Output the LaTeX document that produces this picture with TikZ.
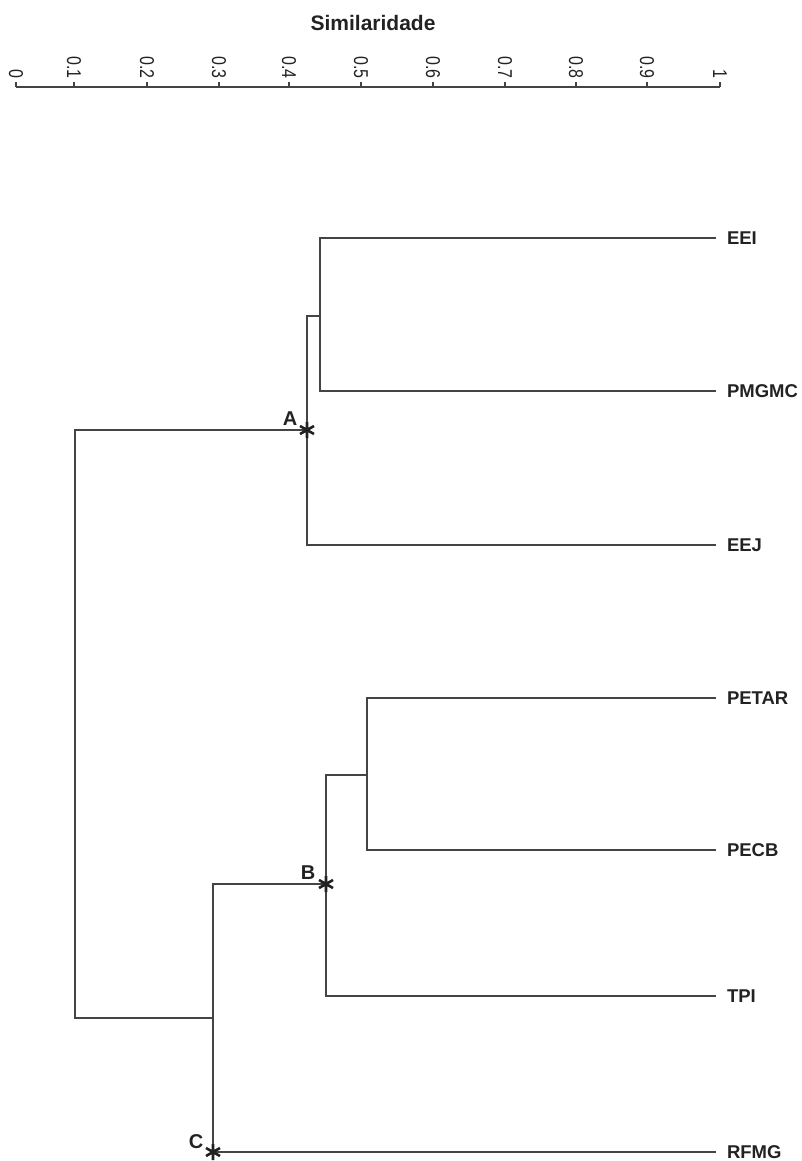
\documentclass[tikz,border=0pt]{standalone}
\usepackage{fontspec}
\setmainfont{Liberation Sans}
\usepackage{xcolor}
\usepackage{tikz}
\usetikzlibrary{positioning,calc}
\definecolor{ramoCol}{HTML}{444444}
\definecolor{textoCol}{HTML}{222222}

\begin{document}
\begin{tikzpicture}[
  x=1pt, y=-1pt,
  ramo/.style={draw=ramoCol, line width=1.9pt, line cap=rect},
  eixo/.style={draw=ramoCol, line width=1.5pt},
  folha/.style={font=\fontsize{18.5}{20}\selectfont\bfseries, text=textoCol,
                anchor=west, inner sep=0pt, outer xsep=12pt},
  marca/.style={font=\fontsize{20}{22}\selectfont\bfseries, text=textoCol, inner sep=0pt},
  rotulo/.style={font=\fontsize{20}{22}\selectfont, text=textoCol, rotate=-90, xscale=0.8,
                 anchor=east, inner sep=0pt},
  estrela/.pic={\draw[line width=2.6pt, draw=textoCol] (0,-8) -- (0,8) (-7,-4) -- (7,4) (-7,4) -- (7,-4);},
]
\useasboundingbox (0,0) rectangle (801,1161);

% ---- Eixo de similaridade ----
\node[font=\fontsize{21}{24}\selectfont\bfseries, text=textoCol] (titulo) at (373,23) {Similaridade};
\draw[eixo] (16,87) -- (720,87);
\foreach \x/\lab in {16/0, 74/0.1, 147/0.2, 219/0.3, 289/0.4, 361/0.5,
                     433/0.6, 505/0.7, 576/0.8, 647/0.9, 720/1} {
  \draw[eixo] (\x,87) -- (\x,82);
  \node[rotulo] at (\x,79) {\lab};
}

% ---- Folhas ----
\node[folha] (eei)   at (715,238)  {EEI};
\node[folha] (pmgmc) at (715,391)  {PMGMC};
\node[folha] (eej)   at (715,545)  {EEJ};
\node[folha] (petar) at (715,698)  {PETAR};
\node[folha] (pecb)  at (715,850)  {PECB};
\node[folha] (tpi)   at (715,996)  {TPI};
\node[folha] (rfmg)  at (715,1152) {RFMG};

% ---- Nós internos ----
\coordinate (n1)   at (320,316);
\coordinate (nA)   at (307,430);
\coordinate (n2)   at (367,775);
\coordinate (nB)   at (326,884);
\coordinate (nC)   at (213,1018);
\coordinate (nCb)  at (213,1152);
\coordinate (raiz) at (75,724);

% ---- Ramos ----
\draw[ramo] (n1) |- (eei.west);
\draw[ramo] (n1) |- (pmgmc.west);
\draw[ramo] (nA) |- (n1);
\draw[ramo] (nA) |- (eej.west);
\draw[ramo] (n2) |- (petar.west);
\draw[ramo] (n2) |- (pecb.west);
\draw[ramo] (nB) |- (n2);
\draw[ramo] (nB) |- (tpi.west);
\draw[ramo] (nC) |- (nB);
\draw[ramo] (nC) |- (rfmg.west);
\draw[ramo] (raiz) |- (nA);
\draw[ramo] (raiz) |- (nC);

% ---- Estrelas A, B, C ----
\pic at (nA) {estrela};
\pic at (nB) {estrela};
\pic at (nCb) {estrela};
\node[marca] (la) at (290,419)  {A};
\node[marca] (lb) at (308,873)  {B};
\node[marca] (lc) at (196,1142) {C};

\end{tikzpicture}
\end{document}
